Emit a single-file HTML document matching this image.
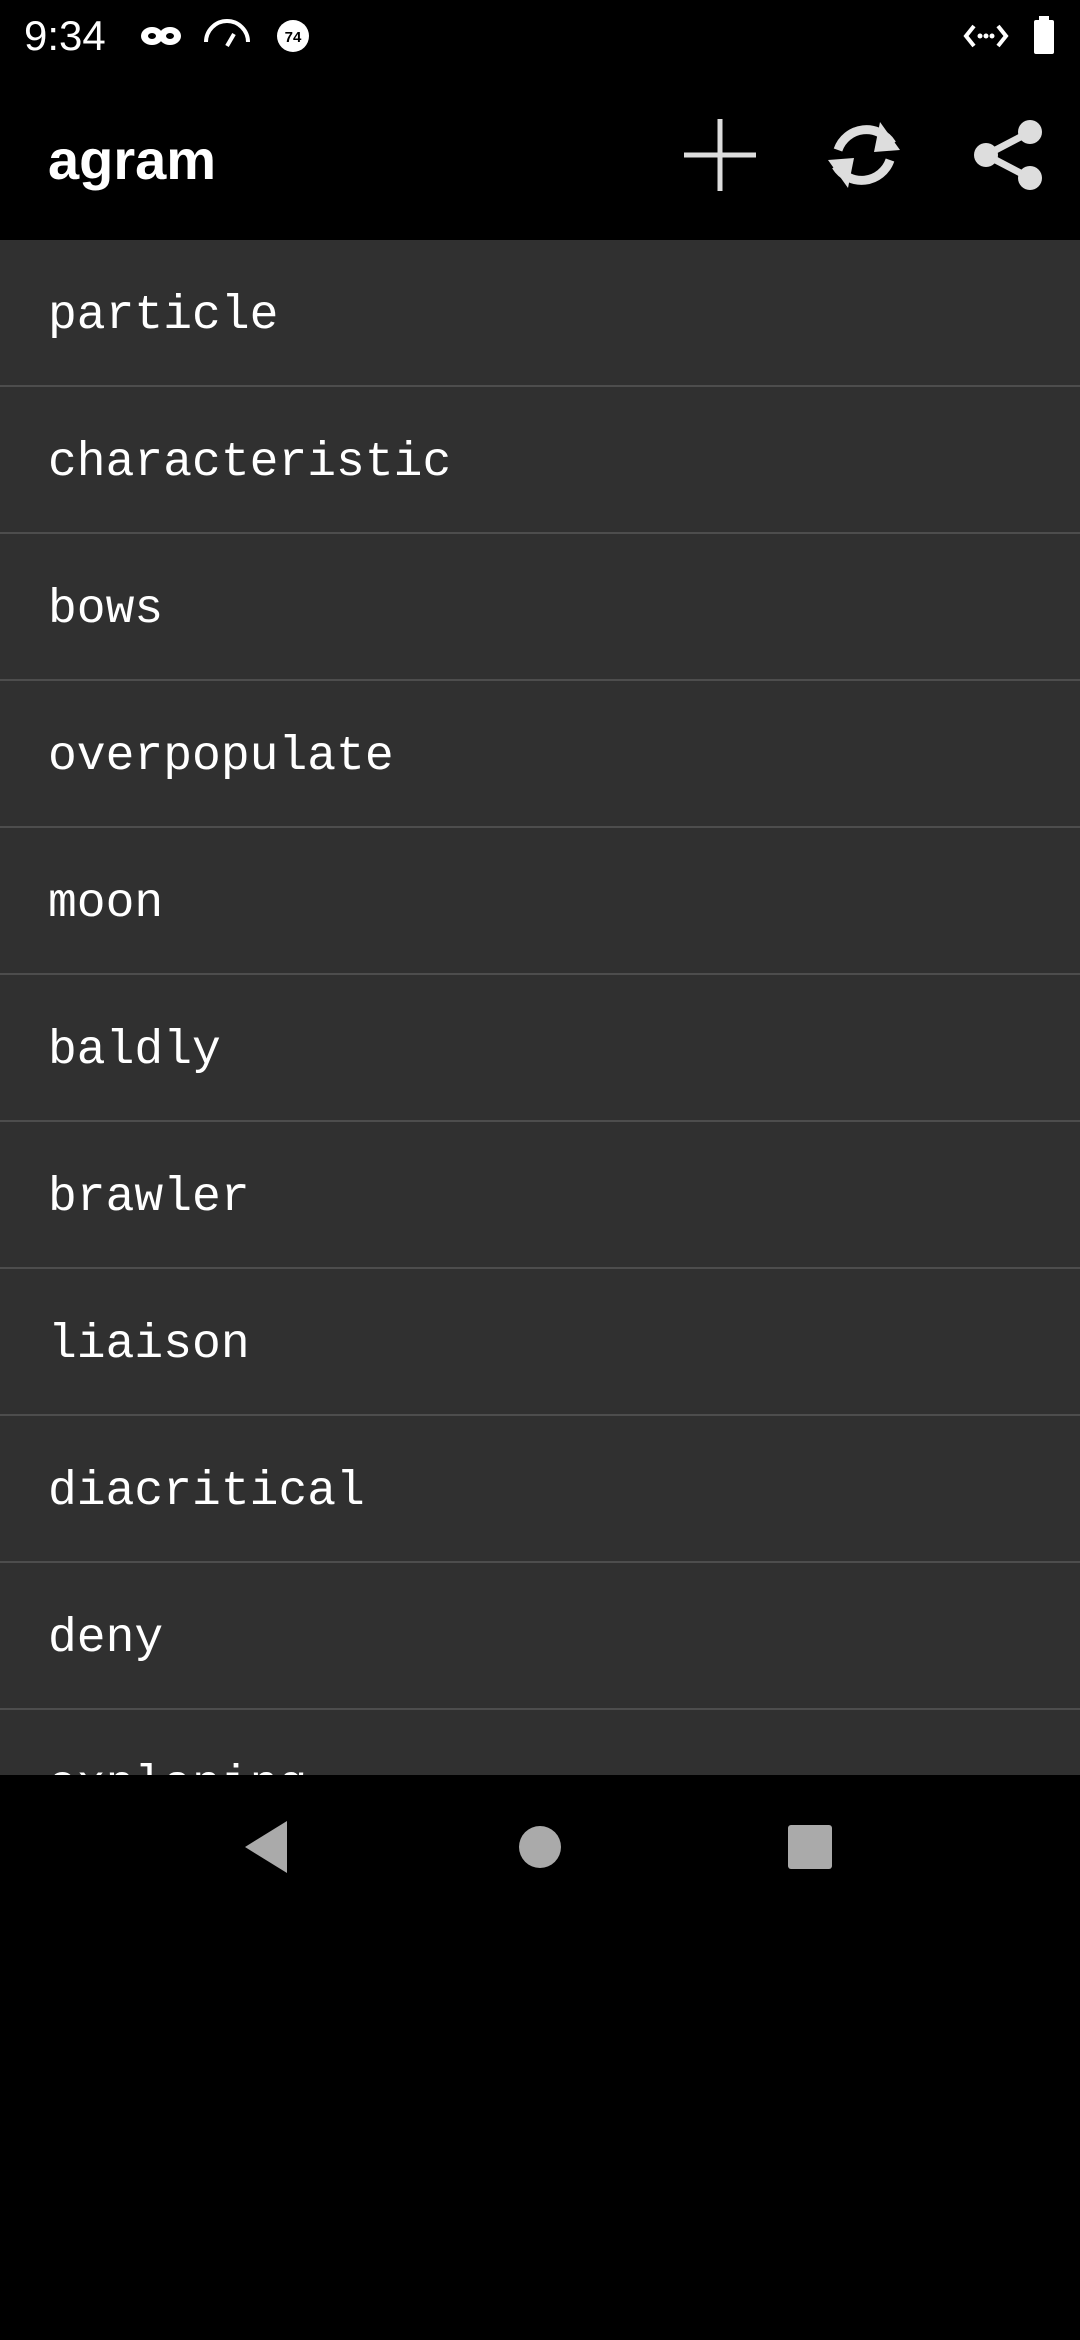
<!DOCTYPE html>
<html><head><meta charset="utf-8">
<style>
html,body{margin:0;padding:0;width:1080px;height:2340px;background:#000;overflow:hidden;font-family:"Liberation Sans",sans-serif;}
#status{position:absolute;left:0;top:0;width:1080px;height:72px;color:#fff;}
#time{position:absolute;left:24px;top:12px;font-size:42px;}
#appbar{position:absolute;left:0;top:72px;width:1080px;height:168px;}
#title{position:absolute;left:48px;top:60px;font-size:56px;font-weight:bold;color:#fff;line-height:1;}
#list{position:absolute;left:0;top:240px;width:1080px;height:1535px;background:#303030;overflow:hidden;}
.row{height:145px;border-bottom:2px solid #4d4d4d;font-family:"Liberation Mono",monospace;font-size:48px;color:#fff;padding-left:48px;line-height:153px;box-sizing:content-box;}
#nav{position:absolute;left:0;top:1775px;width:1080px;height:126px;}
</style></head><body>
<div id="status">
<div id="time">9:34</div>
<svg width="1080" height="72" style="position:absolute;left:0;top:0">
<g fill="#fff">
<ellipse cx="152" cy="36" rx="11" ry="9"/><ellipse cx="170" cy="36" rx="11" ry="9"/>
<ellipse cx="152" cy="36" rx="4" ry="3" fill="#000"/><ellipse cx="170" cy="36" rx="4" ry="3" fill="#000"/>
<path d="M206 42 A21 21 0 0 1 248 42" stroke="#fff" stroke-width="4" fill="none"/>
<line x1="227" y1="46" x2="234" y2="34" stroke="#fff" stroke-width="4"/>
<circle cx="293" cy="36" r="16"/>
<text x="293" y="42" font-size="15" fill="#000" text-anchor="middle" font-weight="bold">74</text>
<path d="M974 26 L966 36 L974 46 M998 26 L1006 36 L998 46" stroke="#fff" stroke-width="4" fill="none"/>
<circle cx="980" cy="36" r="2.5"/><circle cx="986" cy="36" r="2.5"/><circle cx="992" cy="36" r="2.5"/>
<rect x="1034" y="20" width="20" height="34" rx="2"/><rect x="1039" y="16" width="10" height="6"/>
</g></svg>
</div>
<div id="appbar">
<div id="title">agram</div>
<svg width="1080" height="168" style="position:absolute;left:0;top:0">
<g stroke="#ddd" stroke-width="5" fill="none">
<line x1="684" y1="83" x2="756" y2="83"/><line x1="720" y1="47" x2="720" y2="119"/>
<path d="M892 72 A30 30 0 0 0 838 78" stroke-width="9"/>
<path d="M836 94 A30 30 0 0 0 890 88" stroke-width="9"/>
</g>
<g fill="#ddd">
<polygon points="880,50 900,78 874,80"/>
<polygon points="848,116 828,88 854,86"/>
<circle cx="1030" cy="60" r="12"/><circle cx="986" cy="83" r="12"/><circle cx="1030" cy="106" r="12"/>
<line x1="1030" y1="60" x2="986" y2="83" stroke="#ddd" stroke-width="7"/>
<line x1="1030" y1="106" x2="986" y2="83" stroke="#ddd" stroke-width="7"/>
</g></svg>
</div>
<div id="list">
<div class="row">particle</div>
<div class="row">characteristic</div>
<div class="row">bows</div>
<div class="row">overpopulate</div>
<div class="row">moon</div>
<div class="row">baldly</div>
<div class="row">brawler</div>
<div class="row">liaison</div>
<div class="row">diacritical</div>
<div class="row">deny</div>
<div class="row">explaning</div>
</div>
<div id="nav">
<svg width="1080" height="126">
<polygon points="287,46 287,98 245,72" fill="#aaa"/>
<circle cx="540" cy="72" r="21" fill="#aaa"/>
<rect x="788" y="50" width="44" height="44" rx="3" fill="#aaa"/>
</svg>
</div>
</body></html>
